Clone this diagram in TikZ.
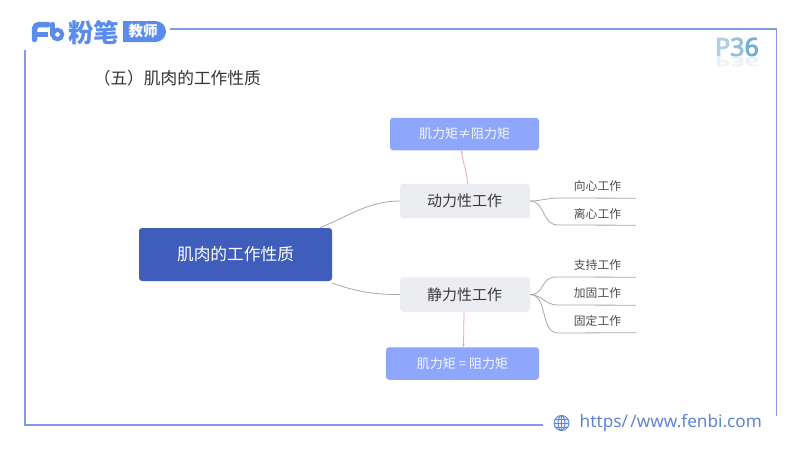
\documentclass[tikz,border=0pt]{standalone}
\usepackage{fontspec}
\setmainfont{Noto Sans CJK SC}
\newfontfamily\latinf{Noto Sans}
\newfontfamily\pagef[FakeBold=3.5]{Noto Sans}
\usetikzlibrary{arrows.meta}
\definecolor{framec}{HTML}{7F9BE3}
\definecolor{logoc}{HTML}{5B8CEB}
\definecolor{rootc}{HTML}{3F5DBB}
\definecolor{subc}{HTML}{ECEDF1}
\definecolor{notec}{HTML}{8EA6FB}
\definecolor{linkc}{HTML}{A8A8A8}
\definecolor{pinkc}{HTML}{F2A4B0}
\definecolor{urlc}{HTML}{5F84D6}
\definecolor{textc}{HTML}{3A3A3A}
\definecolor{pa}{HTML}{AFCFE2}
\definecolor{pb}{HTML}{93C1DC}
\definecolor{pc}{HTML}{74B0D2}
\newcommand{\fs}[1]{\fontsize{#1}{#1}\selectfont}
\tikzset{
  frameline/.style={draw=framec,line width=1.4pt},
  rootbox/.style={rectangle,rounded corners=3pt,fill=rootc,text=white,minimum width=193pt,minimum height=53pt,font=\fs{16.7}},
  subbox/.style={rectangle,rounded corners=3pt,fill=subc,text=textc,minimum width=130pt,minimum height=34.5pt,font=\fs{15}},
  notebox/.style={rectangle,rounded corners=3pt,fill=notec,text=white!92!notec,minimum height=32.5pt,font=\fs{13}},
  leaf/.style={rectangle,minimum width=77pt,minimum height=23pt,inner sep=0pt,text=textc!90,font=\fs{11.8}},
  link/.style={draw=linkc,line width=0.8pt},
  pinklink/.style={draw=pinkc,line width=0.8pt,-{Stealth[length=3pt,width=2.5pt]}},
}
\begin{document}
\begin{tikzpicture}[x=1pt,y=-1pt]
\useasboundingbox (0,0) rectangle (800,450);
\fill[white] (0,0) rectangle (800,450);
% frame
\draw[frameline] (170,28.8) -- (776.5,28.8) -- (776.5,416);
\draw[frameline] (25,50) -- (25,425) -- (543,425);
% logo
\draw[logoc,line width=5.5pt,rounded corners=4.5pt,line cap=round] (34.5,39.5) -- (34.5,24.5) -- (48,24.5);
\draw[logoc,line width=5pt] (34.5,34) -- (48,34);
\draw[logoc,line width=4.2pt,line cap=round] (52.5,24) -- (52.5,35);
\draw[logoc,line width=4.2pt] (57.5,34.5) circle (4.7pt);
\node[font=\fs{25.5}\bfseries,text=logoc,inner sep=0pt] (brand) at (93.5,32.5) {粉笔};
\fill[logoc] (123,21) -- (155.5,21) arc[start angle=90,end angle=-90,radius=10.5pt] -- (123,42) -- cycle;
\node[font=\fs{14.5}\bfseries,text=white,inner sep=0pt] (badge) at (143,31.5) {教师};
% title
\node[font=\fs{16.7},text=black!80,inner sep=0pt,anchor=east] (title) at (261,78) {（五）肌肉的工作性质};
% page number
\node[font=\pagef\fs{25},inner sep=0pt] (page) at (737,47) {\textcolor{pa}{P}\textcolor{pb}{3}\textcolor{pc}{6}};
\node[font=\pagef\fs{25},text=pb!22,inner sep=0pt,yscale=-0.5,transform shape] (pagemirror) at (737,61.5) {P36};
% nodes
\node[rootbox] (root) at (235.5,254.5) {肌肉的工作性质};
\node[subbox] (dyn) at (465,201) {\raisebox{0.5pt}{\kern-1pt 动力性工作}};
\node[subbox] (sta) at (465,294.5) {\raisebox{1pt}{\kern-1pt 静力性工作}};
\node[notebox,minimum width=149pt] (ne) at (464.5,134) {肌力矩≠阻力矩};
\node[notebox,minimum width=153pt] (eq) at (462.5,363.5) {肌力矩 = 阻力矩};
\node[leaf] (l1) at (597.5,186.5) {向心工作};
\node[leaf] (l2) at (597.5,213.5) {离心工作};
\node[leaf] (l3) at (597.5,265.5) {支持工作};
\node[leaf] (l4) at (597.5,293.5) {加固工作};
\node[leaf] (l5) at (597.5,321) {固定工作};
% connectors
\draw[link] ([xshift=-12pt]root.north east) .. controls (350,215) and (370,201) .. (dyn.west);
\draw[link] ([yshift=-2pt]root.south east) .. controls (352,290) and (372,295) .. (sta.west);
\draw[link] (dyn.east) .. controls (540,201) and (548,198) .. (558,198) -- (l1.south east);
\draw[link] (dyn.east) .. controls (545,201) and (542,225) .. (558,225) -- (l2.south east);
\draw[link] (sta.east) .. controls (545,295) and (540,277) .. (556,277) -- (l3.south east);
\draw[link] (sta.east) .. controls (542,295) and (545,305) .. (558,305) -- (l4.south east);
\draw[link] (sta.east) .. controls (548,295) and (540,333) .. (558,333) -- (l5.south east);
\draw[pinklink] ([xshift=2.5pt]dyn.north) .. controls (467,170) and (463,165) .. ([xshift=-3pt]ne.south);
\draw[pinklink] ([xshift=-1pt]sta.south) -- ([xshift=1pt]eq.north);
% footer
\begin{scope}[urlc,line width=0.9pt]
\coordinate (g) at (561.5,423);
\fill[urlc!12] (g) circle (7.5pt);
\draw (g) circle (7.5pt);
\draw (g) ellipse (3.4pt and 7.5pt);
\draw (554,423) -- (569,423);
\draw (555,419) -- (568,419);
\draw (555,427) -- (568,427);
\draw (561.5,415.5) -- (561.5,430.5);
\end{scope}
\node[font=\latinf\fs{17.2},text=urlc,inner sep=0pt,anchor=west] (url) at (579.5,423) {https/\kern2.5pt/www.fenbi.com};
\end{tikzpicture}
\end{document}
